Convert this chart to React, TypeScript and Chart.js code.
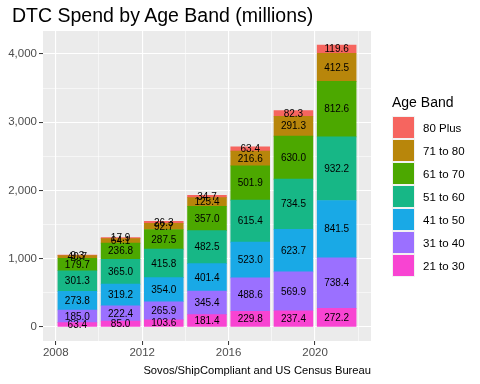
import React, { useEffect, useRef } from "react";
import { Chart, registerables } from "chart.js";

Chart.register(...registerables);

const years = [2009, 2011, 2013, 2015, 2017, 2019, 2021];
const bandNames = ["21 to 30", "31 to 40", "41 to 50", "51 to 60", "61 to 70", "71 to 80", "80 Plus"];
const bandColors = ["#F844D2", "#9B70FF", "#19A9E6", "#17B786", "#4CA800", "#B8860B", "#F6655F"];

const age21to30 = [63.4, 85.0, 103.6, 181.4, 229.8, 237.4, 272.2];
const age31to40 = [185.0, 222.4, 265.9, 345.4, 488.6, 569.9, 738.4];
const age41to50 = [273.8, 319.2, 354.0, 401.4, 523.0, 623.7, 841.5];
const age51to60 = [301.3, 365.0, 415.8, 482.5, 615.4, 734.5, 932.2];
const age61to70 = [179.7, 236.8, 287.5, 357.0, 501.9, 630.0, 812.6];
const age71to80 = [40.7, 64.1, 92.7, 125.4, 216.6, 291.3, 412.5];
const age80plus = [9.3, 17.9, 26.3, 34.7, 63.4, 82.3, 119.6];

const bandValues = [age21to30, age31to40, age41to50, age51to60, age61to70, age71to80, age80plus];

const yTicks = [0, 500, 1000, 1500, 2000, 2500, 3000, 3500, 4000];
const xTicks = [2008, 2010, 2012, 2014, 2016, 2018, 2020, 2022];

const FONT = "'Liberation Sans', Arial, sans-serif";

const panelBg = {
  id: "panelBg",
  beforeDraw(chart: any) {
    const { ctx, chartArea } = chart;
    ctx.save();
    ctx.fillStyle = "#EBEBEB";
    ctx.fillRect(chartArea.left, chartArea.top, chartArea.right - chartArea.left, chartArea.bottom - chartArea.top);
    ctx.restore();
  },
};

const segLabels = {
  id: "segLabels",
  afterDatasetsDraw(chart: any) {
    const { ctx } = chart;
    ctx.save();
    ctx.font = `10px ${FONT}`;
    ctx.fillStyle = "#000";
    ctx.textAlign = "center";
    ctx.textBaseline = "middle";
    chart.data.datasets.forEach((ds: any, i: number) => {
      const meta = chart.getDatasetMeta(i);
      meta.data.forEach((el: any, j: number) => {
        const p = el.getProps(["x", "y", "base"], true);
        const v = ds.data[j].y;
        ctx.fillText(v.toFixed(1), p.x, (p.y + p.base) / 2 + 0.5);
      });
    });
    ctx.restore();
  },
};

export default function App() {
  const ref = useRef<HTMLCanvasElement | null>(null);
  useEffect(() => {
    if (!ref.current) return;
    const chart = new Chart(ref.current, {
      type: "bar",
      data: {
        datasets: bandNames.map((name, i) => ({
          label: name,
          data: years.map((y, j) => ({ x: y, y: bandValues[i][j] })),
          backgroundColor: bandColors[i],
          borderWidth: 0,
          barThickness: 38.9,
        })),
      },
      options: {
        animation: false,
        responsive: false,
        maintainAspectRatio: false,
        layout: { padding: { top: 31, right: 109, left: 0, bottom: 23 } },
        plugins: { legend: { display: false }, title: { display: false }, tooltip: { enabled: false } },
        scales: {
          x: {
            type: "linear",
            stacked: true,
            offset: false,
            min: 2007.41,
            max: 2022.59,
            afterBuildTicks: (s: any) => {
              s.ticks = xTicks.map((v) => ({ value: v }));
            },
            afterFit: (s: any) => {
              s.height = 20;
            },
            ticks: {
              autoSkip: false,
              maxRotation: 0,
              padding: 1,
              color: "#4D4D4D",
              font: { family: FONT, size: 11.5 },
              callback: (v: any) => (Number(v) % 4 === 0 ? String(v) : ""),
            },
            grid: {
              offset: false,
              color: "#FFFFFF",
              lineWidth: (c: any) => (c.tick && c.tick.value % 4 === 0 ? 1.1 : 0.55),
              tickColor: (c: any) => (c.tick && c.tick.value % 4 === 0 ? "#333333" : "rgba(0,0,0,0)"),
              tickWidth: 1,
              tickLength: 4,
            },
            border: { display: false },
          },
          y: {
            type: "linear",
            stacked: true,
            min: -206,
            max: 4335,
            afterBuildTicks: (s: any) => {
              s.ticks = yTicks.map((v) => ({ value: v }));
            },
            afterFit: (s: any) => {
              s.width = 43;
            },
            ticks: {
              autoSkip: false,
              padding: 2,
              color: "#4D4D4D",
              font: { family: FONT, size: 11.5 },
              callback: (v: any) => (Number(v) % 1000 === 0 ? Number(v).toLocaleString("en-US") : ""),
            },
            grid: {
              color: "#FFFFFF",
              lineWidth: (c: any) => (c.tick && c.tick.value % 1000 === 0 ? 1.1 : 0.55),
              tickColor: (c: any) => (c.tick && c.tick.value % 1000 === 0 ? "#333333" : "rgba(0,0,0,0)"),
              tickWidth: 1,
              tickLength: 4,
            },
            border: { display: false },
          },
        },
      } as any,
      plugins: [panelBg, segLabels],
    });
    return () => chart.destroy();
  }, []);

  const legendOrder = [6, 5, 4, 3, 2, 1, 0];

  return (
    <div style={{ position: "absolute", left: 0, top: 0, width: 480, height: 384, background: "#fff", fontFamily: FONT }}>
      <canvas ref={ref} width={480} height={384} style={{ position: "absolute", left: 0, top: 0 }} />
      <div style={{ position: "absolute", left: 12, top: 4, fontSize: 19.5, color: "#000", whiteSpace: "nowrap" }}>
        DTC Spend by Age Band (millions)
      </div>
      <div style={{ position: "absolute", right: 109, top: 364, fontSize: 11.2, color: "#000", whiteSpace: "nowrap" }}>
        Sovos/ShipCompliant and US Census Bureau
      </div>
      <div style={{ position: "absolute", left: 392, top: 94, fontSize: 14, color: "#000", whiteSpace: "nowrap" }}>
        Age Band
      </div>
      {legendOrder.map((idx, k) => (
        <div key={idx} style={{ position: "absolute", left: 392, top: 116 + k * 23, height: 23, display: "flex", alignItems: "center" }}>
          <div style={{ width: 21, height: 21, background: bandColors[idx], border: "1px solid #F2F2F2" }} />
          <div style={{ marginLeft: 8, fontSize: 11.5, color: "#000", whiteSpace: "nowrap" }}>{bandNames[idx]}</div>
        </div>
      ))}
    </div>
  );
}
